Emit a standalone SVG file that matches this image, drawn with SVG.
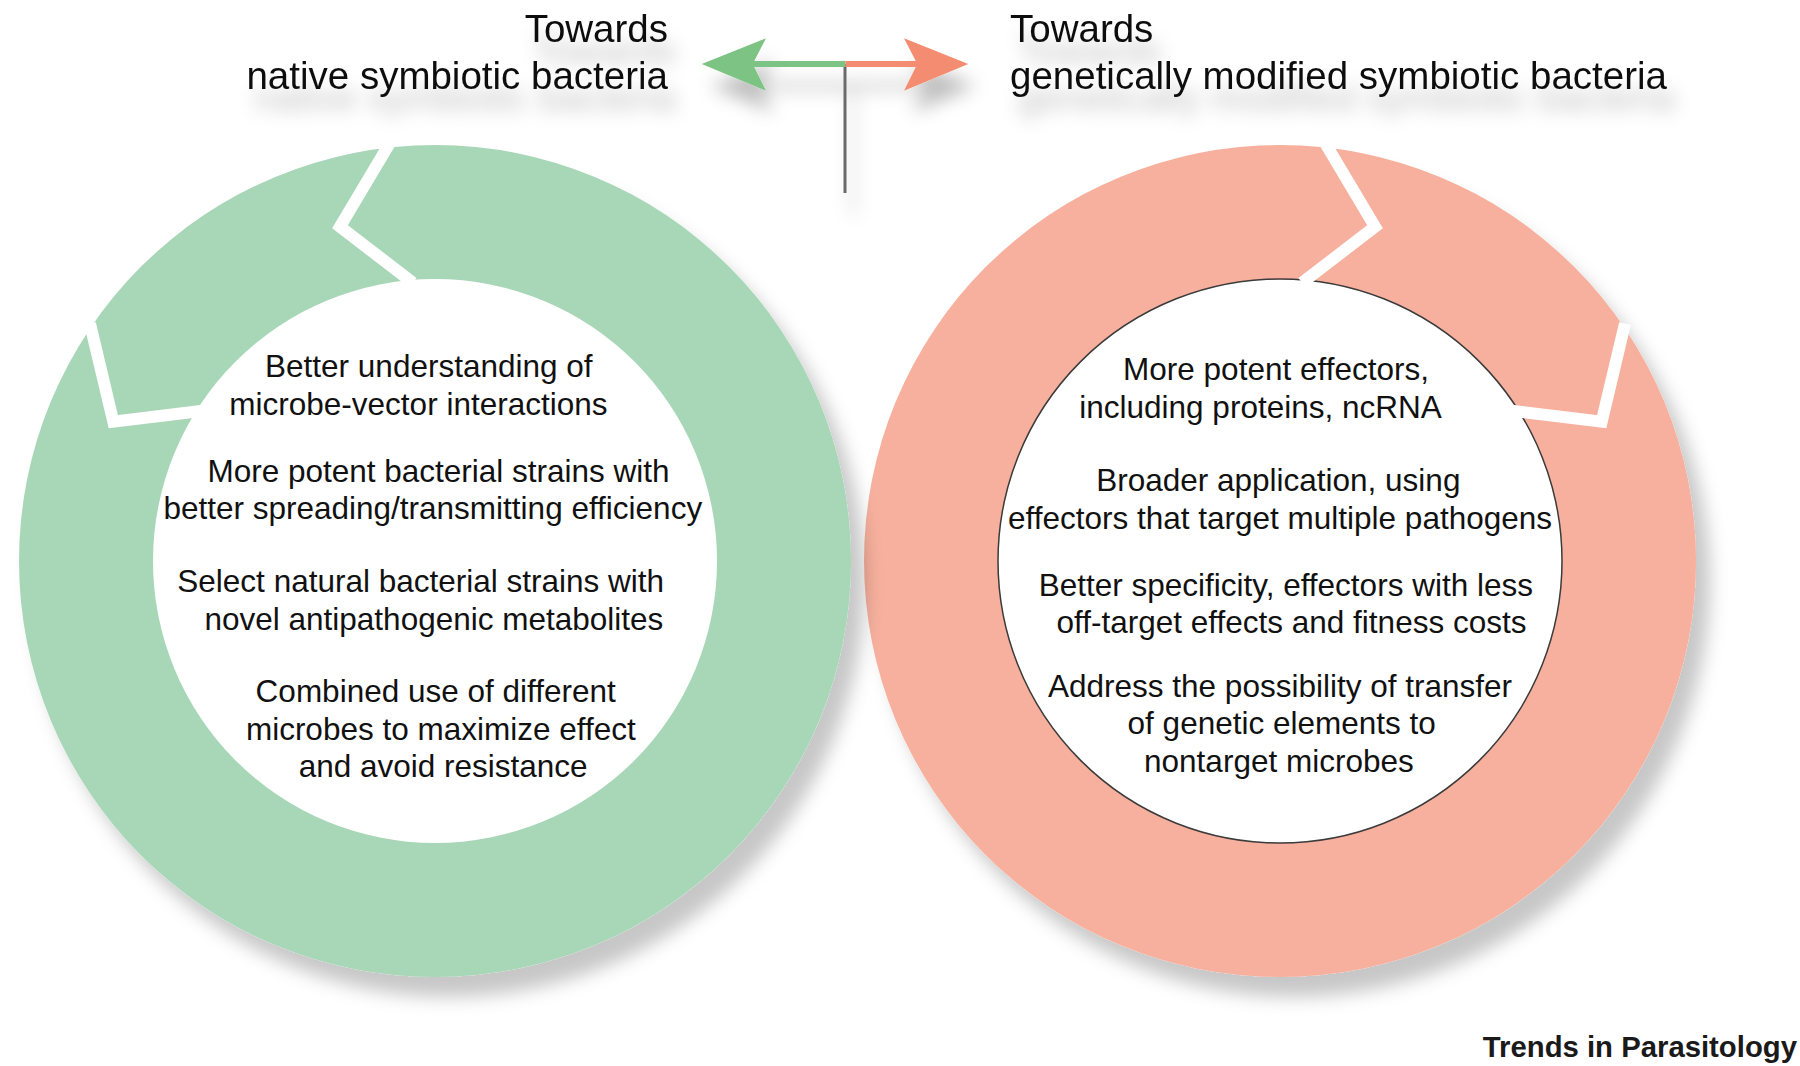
<svg xmlns="http://www.w3.org/2000/svg" width="1800" height="1066" viewBox="0 0 1800 1066">
<style>
  .title { font-family: "Liberation Sans", Arial, sans-serif; font-size: 38.5px; fill: #111; }
  .body { font-family: "Liberation Sans", Arial, sans-serif; font-size: 31.5px; fill: #111; text-anchor: middle; }
  .credit { font-family: "Liberation Sans", Arial, sans-serif; font-size: 29.3px; font-weight: bold; fill: #1a1a1a; text-anchor: end; }
  .notch { fill: none; stroke: #ffffff; stroke-width: 12; stroke-linecap: butt; stroke-linejoin: miter; }
</style>
<defs>
  <filter id="ringShadow" x="-10%" y="-10%" width="130%" height="130%">
    <feGaussianBlur in="SourceAlpha" stdDeviation="9"/>
    <feOffset dx="14" dy="20" result="b"/>
    <feFlood flood-color="#000" flood-opacity="0.22"/>
    <feComposite in2="b" operator="in"/>
    <feMerge><feMergeNode/><feMergeNode in="SourceGraphic"/></feMerge>
  </filter>
  <filter id="softShadow" x="-20%" y="-40%" width="140%" height="240%">
    <feGaussianBlur in="SourceAlpha" stdDeviation="9"/>
    <feOffset dx="8" dy="22" result="b"/>
    <feFlood flood-color="#000" flood-opacity="0.25"/>
    <feComposite in2="b" operator="in"/>
    <feMerge><feMergeNode/><feMergeNode in="SourceGraphic"/></feMerge>
  </filter>
</defs>
<rect width="1800" height="1066" fill="#ffffff"/>

<g id="node-gm-ring">
  <g filter="url(#ringShadow)">
    <circle cx="1280" cy="561" r="416" fill="#f7b09d"/>
    <circle cx="1280" cy="561" r="282" fill="#ffffff" stroke="#3a3a3a" stroke-width="1.5"/>
  </g>
  <polyline class="notch" points="1323.2,139.7 1375,226.7 1302.1,282.8"/>
  <polyline class="notch" points="1625,323.6 1601.7,421.7 1510.1,410.5"/>
  <text class="body" x="1276" y="380">More potent effectors,</text>
  <text class="body" x="1260.5" y="418">including proteins, ncRNA</text>
  <text class="body" x="1278.3" y="491">Broader application, using</text>
  <text class="body" x="1280" y="529">effectors that target multiple pathogens</text>
  <text class="body" x="1285.8" y="596">Better specificity, effectors with less</text>
  <text class="body" x="1291.5" y="633">off-target effects and fitness costs</text>
  <text class="body" x="1280" y="697">Address the possibility of transfer</text>
  <text class="body" x="1281.7" y="734">of genetic elements to</text>
  <text class="body" x="1278.9" y="772">nontarget microbes</text>
</g>

<g id="node-native-ring">
  <g filter="url(#ringShadow)">
    <circle cx="435" cy="561" r="416" fill="#a8d7b7"/>
    <circle cx="435" cy="561" r="282" fill="#ffffff"/>
  </g>
  <polyline class="notch" points="391.8,139.7 340,226.7 412.9,282.8"/>
  <polyline class="notch" points="90,323.6 113.3,421.7 204.9,410.5"/>
  <text class="body" x="428.8" y="377">Better understanding of</text>
  <text class="body" x="418.4" y="415">microbe-vector interactions</text>
  <text class="body" x="438.5" y="482">More potent bacterial strains with</text>
  <text class="body" x="432.8" y="519">better spreading/transmitting efficiency</text>
  <text class="body" x="420.7" y="592">Select natural bacterial strains with</text>
  <text class="body" x="433.9" y="630">novel antipathogenic metabolites</text>
  <text class="body" x="435.7" y="702">Combined use of different</text>
  <text class="body" x="440.8" y="740">microbes to maximize effect</text>
  <text class="body" x="443.1" y="777">and avoid resistance</text>
</g>

<g id="node-native-label" filter="url(#softShadow)">
  <text class="title" x="668" y="42" text-anchor="end">Towards</text>
  <text class="title" x="668" y="89" text-anchor="end">native symbiotic bacteria</text>
</g>

<g id="node-gm-label" filter="url(#softShadow)">
  <text class="title" x="1010" y="42">Towards</text>
  <text class="title" x="1010" y="89">genetically modified symbiotic bacteria</text>
</g>

<g id="connectors" filter="url(#softShadow)">
  <line x1="845" y1="64" x2="845" y2="193" stroke="#6b6b6b" stroke-width="3"/>
  <rect x="752" y="61" width="93.5" height="6" fill="#7dc383"/>
  <rect x="845.5" y="61" width="73" height="6" fill="#f38c6f"/>
  <path d="M701.7,64 L766,38.3 L752.7,64 L766,90.7 Z" fill="#7dc383"/>
  <path d="M968.3,64 L904,38.3 L917.3,64 L904,90.7 Z" fill="#f38c6f"/>
</g>

<text class="credit" x="1797" y="1057">Trends in Parasitology</text>
</svg>
